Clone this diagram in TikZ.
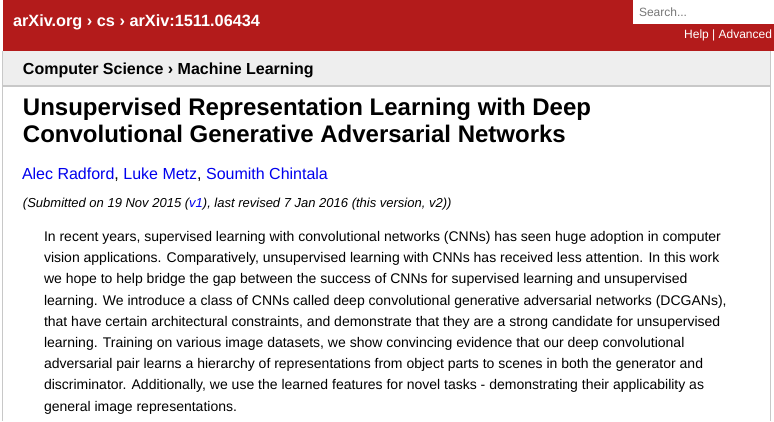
\documentclass[tikz,border=0pt]{standalone}
\usepackage{fontspec}
\setmainfont{Liberation Sans}
\definecolor{arxred}{HTML}{B31B1B}
\definecolor{barbg}{HTML}{EEEEEE}
\definecolor{bordergray}{HTML}{C8C8C8}
\definecolor{linkblue}{RGB}{0,0,238}
\definecolor{searchgray}{HTML}{777777}
\begin{document}
\begin{tikzpicture}[x=1pt,y=-1pt,
  txt/.style={inner sep=0pt,outer sep=0pt,anchor=base west},
  hdr/.style={txt,text=white,font=\fontsize{16.3}{20}\selectfont\bfseries},
  crumb/.style={txt,font=\fontsize{16}{20}\selectfont\bfseries},
  ttl/.style={txt,font=\fontsize{24}{28}\selectfont\bfseries},
  auth/.style={txt,text=linkblue,font=\fontsize{16}{19}\selectfont},
  sub/.style={txt,font=\fontsize{13}{15}\selectfont\itshape},
  abs/.style={txt,font=\fontsize{14}{17}\selectfont},
  small/.style={txt,font=\fontsize{12}{14}\selectfont}]
\useasboundingbox (0,0) rectangle (774,421);
\fill[white] (0,0) rectangle (774,421);
% red header
\fill[arxred] (3,0) rectangle (774,51);
% search box
\fill[white] (633,0) rectangle (774,24);
\node[small,text=searchgray] (search) at (639,16) {Search...};
\node[small,text=white,anchor=base east] (help) at (772,38.5) {Help | Advanced};
% breadcrumb header
\node[hdr] (crumbtop) at (13,26) {arXiv.org › cs › arXiv:1511.06434};
% gray subject bar
\fill[barbg] (3,51) rectangle (770,86);
\draw[bordergray,line width=1.2pt] (3,86) -- (770,86);
\draw[bordergray,line width=1pt] (770.5,51) -- (770.5,421);
\draw[bordergray,line width=1pt] (2.5,51) -- (2.5,421);
\node[crumb] (subject) at (23,74) {Computer Science › Machine Learning};
% title
\node[ttl] (t1) at (23,115.5) {Unsupervised Representation Learning with Deep};
\node[ttl] (t2) at (23,142.5) {Convolutional Generative Adversarial Networks};
% authors
\node[auth] (authors) at (22,179) {Alec Radford\textcolor{black}{,} Luke Metz\textcolor{black}{,} Soumith Chintala};
% submission line
\node[sub] (submitted) at (23,207) {(Submitted on 19 Nov 2015 (\textcolor{linkblue}{v1}), last revised 7 Jan 2016 (this version, v2))};
% abstract
\node[abs] (a1) at (44,241.5) {In recent years, supervised learning with convolutional networks (CNNs) has seen huge adoption in computer};
\node[abs] (a2) at (44,262.7) {vision applications. Comparatively, unsupervised learning with CNNs has received less attention. In this work};
\node[abs] (a3) at (44,283.9) {we hope to help bridge the gap between the success of CNNs for supervised learning and unsupervised};
\node[abs] (a4) at (44,305.1) {learning. We introduce a class of CNNs called deep convolutional generative adversarial networks (DCGANs),};
\node[abs] (a5) at (44,326.3) {that have certain architectural constraints, and demonstrate that they are a strong candidate for unsupervised};
\node[abs] (a6) at (44,347.5) {learning. Training on various image datasets, we show convincing evidence that our deep convolutional};
\node[abs] (a7) at (44,368.7) {adversarial pair learns a hierarchy of representations from object parts to scenes in both the generator and};
\node[abs] (a8) at (44,389.9) {discriminator. Additionally, we use the learned features for novel tasks - demonstrating their applicability as};
\node[abs] (a9) at (44,411.1) {general image representations.};
\end{tikzpicture}
\end{document}
